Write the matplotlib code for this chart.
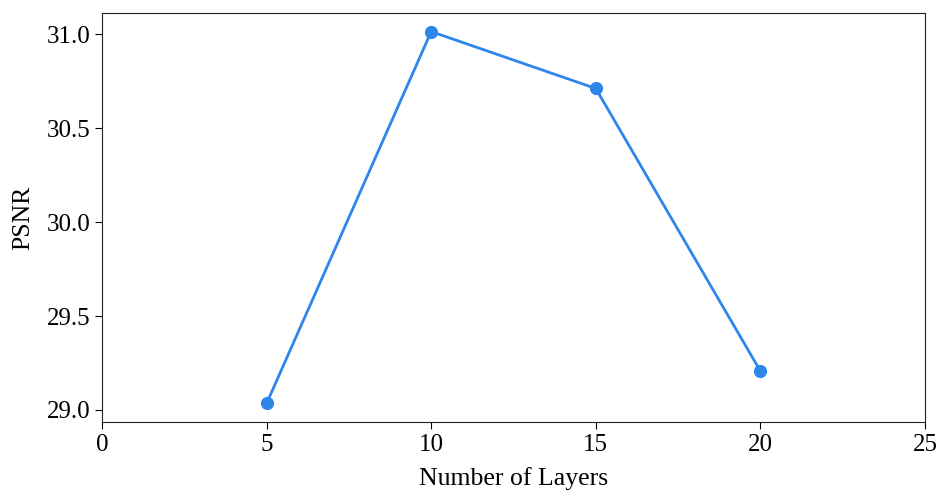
import matplotlib
matplotlib.use("Agg")
import matplotlib.pyplot as plt

layers = [5, 10, 15, 20]
psnr = [29.035, 31.015, 30.712, 29.207]
xticks = [0, 5, 10, 15, 20, 25]
yticks = [29.0, 29.5, 30.0, 30.5, 31.0]

plt.rcParams['font.family'] = ['Liberation Serif', 'DejaVu Serif']
fig = plt.figure(figsize=(9.52, 5.03), dpi=100)
ax = fig.add_axes([102/952, 1 - 422/503, (925-102)/952, (422-13)/503])
ax.plot(layers, psnr, color='#2e86eb', linewidth=2, marker='o', markersize=8.5)
ax.set_xlim(0, 25)
ax.set_xticks(xticks)
ax.set_yticks(yticks)
ax.set_yticklabels([f"{v:.1f}" for v in yticks])
ax.tick_params(labelsize=18, length=5)
ax.set_xlabel('Number of Layers', fontsize=18.5, labelpad=8)
ax.set_ylabel('PSNR', fontsize=18.5, labelpad=9)
for s in ax.spines.values():
    s.set_color('#222222')
fig.savefig('out.png', dpi=100)
